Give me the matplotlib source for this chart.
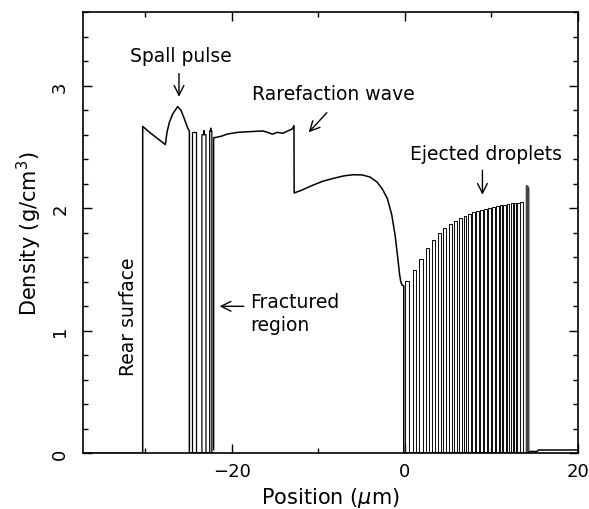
import numpy as np
import matplotlib
matplotlib.use("Agg")
import matplotlib.pyplot as plt
from matplotlib.ticker import MultipleLocator

# ---------------- data ----------------
# solid target: rear surface, spall pulse, up to the fractured region
rear_x = [-37.2, -30.3, -30.3, -29.5, -28.6, -27.68, -27.49, -27.22, -26.83, -26.25,
          -25.87, -25.48, -25.1, -24.9, -24.9]
rear_y = [0.0, 0.0, 2.668, 2.62, 2.57, 2.52, 2.62, 2.70, 2.77, 2.83,
          2.80, 2.73, 2.655, 2.63, 0.0]

# fractured pieces: left edge, right edge, top level, spike height
frac_left = [-24.65, -23.45, -22.55]
frac_right = [-24.13, -22.98, -22.30]
frac_top = [2.62, 2.60, 2.63]
frac_spike = [2.62, 2.635, 2.655]

# main body from fractured region through rarefaction wave to the free surface
body_x = [-22.1, -22.1, -21.25, -20.5, -19.3, -17.8, -16.4, -15.85, -15.3, -14.7,
          -14.1, -13.55, -13.0, -12.8, -12.78, -12.0, -10.9, -9.5, -8.2, -7.0,
          -5.9, -4.9, -4.0, -3.2, -2.6, -2.0, -1.5, -1.1, -0.8, -0.6,
          -0.45, -0.3, -0.1, -0.1]
body_y = [0.03, 2.575, 2.587, 2.606, 2.62, 2.626, 2.631, 2.62, 2.605, 2.62,
          2.612, 2.63, 2.647, 2.675, 2.125, 2.145, 2.18, 2.22, 2.245, 2.265,
          2.274, 2.272, 2.255, 2.215, 2.16, 2.08, 1.95, 1.78, 1.60, 1.47,
          1.40, 1.375, 1.365, 0.0]

# ejected droplets: left edge, right edge, density
drop_left = [0.07, 0.95, 1.70, 2.43, 3.17, 3.82, 4.43, 5.09, 5.67, 6.24,
             6.82, 7.32, 7.78, 8.28, 8.75, 9.20, 9.70, 10.15, 10.58, 11.00,
             11.42, 11.84, 12.25, 12.65, 13.05, 13.40]
drop_right = [0.53, 1.30, 2.08, 2.83, 3.55, 4.20, 4.82, 5.47, 6.05, 6.63,
              7.13, 7.63, 8.09, 8.59, 9.05, 9.50, 10.00, 10.43, 10.86, 11.28,
              11.70, 12.12, 12.53, 12.93, 13.33, 13.68]
drop_top = [1.408, 1.495, 1.585, 1.672, 1.743, 1.795, 1.836, 1.871, 1.898, 1.922,
            1.939, 1.955, 1.966, 1.977, 1.988, 1.994, 2.000, 2.012, 2.018, 2.024,
            2.030, 2.035, 2.040, 2.044, 2.047, 2.050]

# leading spike and low-density tail
spike_x = [14.15, 14.15, 14.3, 14.3]
spike_y = [0.0, 2.18, 2.16, 0.0]
tail_x = [14.3, 14.5, 15.3, 15.5, 20.0]
tail_y = [0.0, 0.015, 0.015, 0.027, 0.027]

xticks = [-20, 0, 20]
yticks = [0, 1, 2, 3]

# ---------------- figure ----------------
plt.rcParams["mathtext.fontset"] = "dejavusans"
fig = plt.figure(figsize=(5.89, 5.10), dpi=100)
ax = fig.add_axes([0.141, 0.1092, 0.8395, 0.8648])

lc = "black"
lw = 1.1

ax.plot(rear_x, rear_y, color=lc, lw=lw)
for L, R, T, S in zip(frac_left, frac_right, frac_top, frac_spike):
    m = 0.5 * (L + R)
    ax.plot([L, L, m - 0.05, m, m + 0.05, R, R], [0, T, T, S, T, T, 0], color=lc, lw=0.9)
ax.plot([-24.9, -22.1], [0, 0], color=lc, lw=lw)
ax.plot(body_x, body_y, color=lc, lw=lw)
for L, R, T in zip(drop_left, drop_right, drop_top):
    ax.plot([L, L, R, R], [0, T, T, 0], color="#111111", lw=0.75)
ax.plot([-0.1, 14.3], [0, 0], color=lc, lw=lw)
ax.plot(spike_x, spike_y, color="#444444", lw=1.8)
ax.plot(tail_x, tail_y, color=lc, lw=lw)

ax.set_xlim(-37.2, 20)
ax.set_ylim(0, 3.6)
ax.set_xticks(xticks)
ax.set_xticklabels([("\u221220" if t == -20 else str(t)) for t in xticks], fontsize=13)
ax.xaxis.set_minor_locator(MultipleLocator(10))
ax.set_yticks(yticks)
ax.set_yticklabels([str(t) for t in yticks], fontsize=13, rotation=90, va="center")
ax.yaxis.set_minor_locator(MultipleLocator(0.2))
ax.tick_params(which="both", direction="in", top=True, right=True, width=1.0)
ax.tick_params(which="major", length=6.5)
ax.tick_params(which="minor", length=3.8)
ax.tick_params(axis="x", which="major", pad=6)
ax.tick_params(axis="y", which="major", pad=10)
for sp in ax.spines.values():
    sp.set_linewidth(1.2)

ax.set_xlabel("Position ($\\mu$m)", fontsize=15)
ax.xaxis.set_label_coords(0.5, -0.072)
ax.set_ylabel("Density (g/cm$^3$)", fontsize=15)
ax.yaxis.set_label_coords(-0.078, 0.5)

fs = 13.5
aprops = dict(arrowstyle="->,head_length=0.5,head_width=0.25", lw=1.0, color="black",
              shrinkA=0, shrinkB=0, mutation_scale=14)

ax.text(-25.85, 3.25, "Spall pulse", fontsize=fs, ha="center", va="center")
ax.annotate("", xy=(-26.1, 2.91), xytext=(-26.1, 3.10), arrowprops=aprops)

ax.text(-8.2, 2.94, "Rarefaction wave", fontsize=fs, ha="center", va="center")
ax.annotate("", xy=(-11.1, 2.62), xytext=(-9.0, 2.78), arrowprops=aprops)

ax.text(9.4, 2.45, "Ejected droplets", fontsize=fs, ha="center", va="center")
ax.annotate("", xy=(9.0, 2.11), xytext=(9.0, 2.31), arrowprops=aprops)

ax.text(-17.9, 1.145, "Fractured\nregion", fontsize=fs, ha="left", va="center",
        linespacing=1.3)
ax.annotate("", xy=(-21.4, 1.2), xytext=(-18.6, 1.2), arrowprops=aprops)

ax.text(-31.9, 1.12, "Rear surface", fontsize=fs, ha="center", va="center", rotation=90)

fig.savefig("out.png", dpi=100)
